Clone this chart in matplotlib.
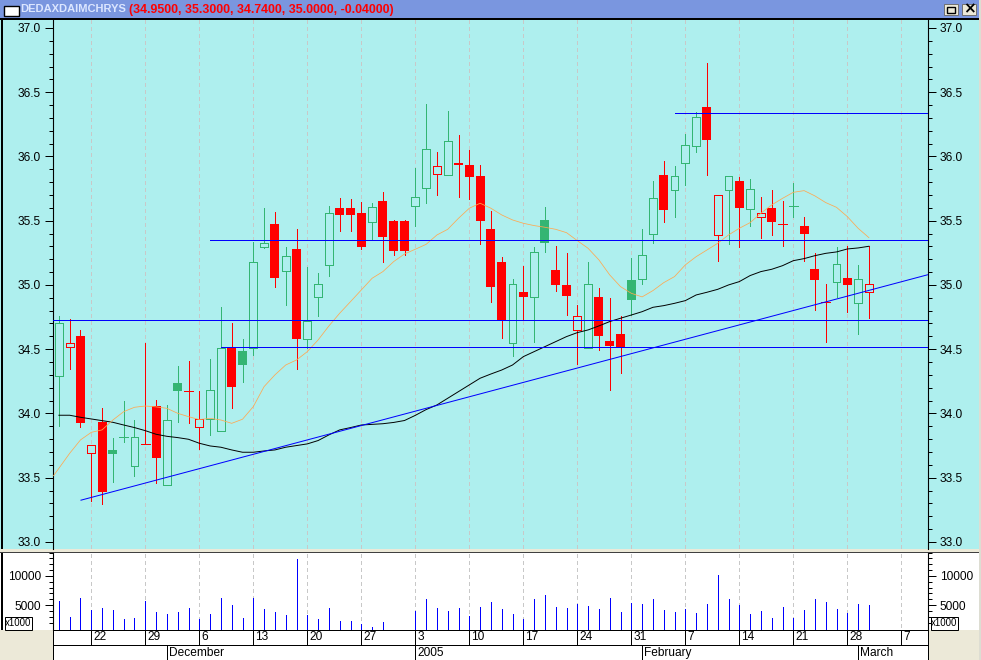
import numpy as np
import matplotlib
matplotlib.use("Agg")
import matplotlib.pyplot as plt
from matplotlib.patches import Rectangle

plt.rcParams['font.family'] = ['Liberation Sans', 'DejaVu Sans']

W, H = 981, 660

# body top, body bottom, high, low for each session
body_top = [34.70, 34.546, 34.603, 33.752, 33.934, 33.716, 33.815, 33.815, 33.76, 34.058,
            33.947, 34.237, 34.173, 33.955, 34.18, 34.507, 34.512, 34.486, 35.176, 35.324,
            35.475, 35.223, 35.28, 34.722, 35.005, 35.558, 35.599, 35.599, 35.56, 35.604,
            35.654, 35.498, 35.498, 35.682, 36.056, 35.923, 36.118, 35.949, 35.934, 35.848,
            35.436, 35.179, 35.005, 34.946, 35.254, 35.506, 35.117, 35.0, 34.756, 35.005,
            34.907, 34.564, 34.619, 35.039, 35.233, 35.674, 35.856, 35.846, 36.087, 36.305,
            36.385, 35.698, 35.846, 35.81, 35.745, 35.558, 35.599, 35.472, 35.612, 35.459,
            35.125, 34.865, 35.161, 35.054, 35.044, 35.005]
body_bot = [34.29, 34.52, 33.929, 33.69, 33.389, 33.685, 33.815, 33.594, 33.76, 33.656,
            33.441, 34.178, 34.173, 33.898, 33.955, 33.861, 34.209, 34.38, 34.507, 35.298,
            35.057, 35.106, 34.582, 34.577, 34.904, 35.153, 35.547, 35.547, 35.298, 35.488,
            35.376, 35.267, 35.267, 35.612, 35.752, 35.861, 35.853, 35.934, 35.84, 35.501,
            34.984, 34.728, 34.551, 34.907, 34.904, 35.329, 35.0, 34.914, 34.652, 34.507,
            34.603, 34.525, 34.515, 34.883, 35.047, 35.394, 35.584, 35.737, 35.952, 36.084,
            36.128, 35.392, 35.737, 35.599, 35.594, 35.532, 35.49, 35.472, 35.612, 35.397,
            35.039, 34.865, 35.021, 35.0, 34.857, 34.948]
high = [34.76, 34.735, 34.65, 33.752, 34.043, 33.81, 34.097, 33.949, 34.546, 34.105,
        34.066, 34.37, 34.409, 34.175, 34.424, 34.829, 34.704, 34.58, 35.335, 35.599,
        35.568, 35.296, 35.436, 35.14, 35.091, 35.615, 35.677, 35.669, 35.646, 35.638,
        35.724, 35.503, 35.506, 35.91, 36.409, 36.035, 36.354, 36.167, 36.05, 35.934,
        35.576, 35.218, 35.047, 35.148, 35.296, 35.607, 35.303, 35.249, 34.844, 35.179,
        34.977, 34.899, 34.759, 35.21, 35.436, 35.809, 35.965, 35.926, 36.175, 36.346,
        36.728, 35.698, 35.846, 35.84, 35.825, 35.685, 35.74, 35.654, 35.794, 35.529,
        35.249, 35.008, 35.296, 35.303, 35.156, 35.301]
low = [33.90, 34.346, 33.895, 33.319, 33.298, 33.467, 33.778, 33.514, 33.76, 33.459,
       33.441, 33.934, 33.926, 33.724, 33.833, 33.861, 34.043, 34.245, 34.455, 35.288,
       34.984, 34.844, 34.346, 34.512, 34.759, 35.07, 35.42, 35.423, 35.283, 35.348,
       35.179, 35.236, 35.236, 35.459, 35.638, 35.7, 35.853, 35.685, 35.669, 35.319,
       34.868, 34.588, 34.447, 34.735, 34.556, 35.257, 34.953, 34.766, 34.385, 34.507,
       34.494, 34.183, 34.315, 34.766, 35.008, 35.327, 35.49, 35.529, 35.778, 36.035,
       35.856, 35.187, 35.319, 35.296, 35.459, 35.366, 35.389, 35.303, 35.529, 35.187,
       34.805, 34.556, 34.907, 34.79, 34.619, 34.743]
# r = red, g = green; upper case = filled body
candle_kind = list(
    "grRrRGggrR"
    "gGrrggRGgg"
    "RgRgggRRRg"
    "RRRggrgRRR"
    "RRgRgGRRrg"
    "RRRGggRggg"
    "RrgRgrRrgR"
    "RrgRgr")

ma_slow = [33.986, 33.986, 33.97, 33.957, 33.944, 33.931, 33.91, 33.89, 33.866, 33.838,
           33.822, 33.812, 33.799, 33.768, 33.747, 33.737, 33.716, 33.698, 33.698, 33.708,
           33.716, 33.737, 33.75, 33.763, 33.789, 33.833, 33.872, 33.89, 33.91, 33.915,
           33.92, 33.93, 33.945, 33.985, 34.03, 34.066, 34.118, 34.17, 34.222, 34.274,
           34.307, 34.338, 34.377, 34.442, 34.481, 34.52, 34.559, 34.598, 34.629, 34.65,
           34.681, 34.715, 34.741, 34.766, 34.792, 34.826, 34.839, 34.857, 34.878, 34.922,
           34.943, 34.966, 35.0, 35.026, 35.073, 35.104, 35.122, 35.15, 35.189, 35.205,
           35.228, 35.246, 35.257, 35.28, 35.288, 35.301]
ma_fast = [33.573, 33.69, 33.794, 33.853, 33.872, 33.949, 34.014, 34.048, 34.058, 34.051,
           34.04, 34.001, 33.975, 33.952, 33.962, 33.949, 33.923, 33.955, 34.053, 34.209,
           34.3, 34.377, 34.416, 34.481, 34.572, 34.681, 34.78, 34.87, 34.961, 35.052,
           35.104, 35.182, 35.241, 35.278, 35.316, 35.389, 35.433, 35.519, 35.597, 35.636,
           35.597, 35.545, 35.506, 35.48, 35.462, 35.449, 35.433, 35.407, 35.345, 35.285,
           35.195, 35.078, 34.987, 34.935, 34.907, 34.956, 35.018, 35.065, 35.156, 35.22,
           35.272, 35.324, 35.389, 35.441, 35.485, 35.558, 35.623, 35.674, 35.721, 35.734,
           35.693, 35.641, 35.604, 35.532, 35.441, 35.368]
ma_fast_entry = 33.515  # value where the line enters at the left edge

volume = [5680, 2950, 6190, 4140, 4485, 4140, 2600, 2780, 5680, 3800,
          3460, 3800, 4485, 2600, 3460, 6190, 4995, 2780, 6190, 4310,
          3800, 3290, 12850, 3290, 2600, 4485, 2265, 2265, 1750, 1240,
          2095, 0, 0, 3970, 6020, 4485, 3970, 4485, 3120, 4655,
          5510, 4310, 3460, 2600, 6020, 6700, 4655, 4485, 5170, 4825,
          4310, 6190, 3800, 5340, 5170, 6020, 4140, 3800, 4310, 3630,
          5170, 10120, 6020, 4995, 3460, 3970, 2780, 4655, 2780, 4140,
          6020, 5510, 4310, 3630, 5170, 4995]

# start bar, level
hlines_start = [-0.55, 14, 15, 57]
hlines_level = [34.725, 35.348, 34.515, 36.336]
trend_x = [2, 80.47]
trend_y = [33.324, 35.08]

grid_bars = [3, 8, 13, 18, 23, 28, 33, 38, 43, 48, 53, 58, 63, 68, 73, 78]
day_labels = ['22', '29', '6', '13', '20', '27', '3', '10', '17', '24', '31', '7', '14', '21', '28', '7']
month_bars = [10, 33, 54, 74]
month_labels = ['December', '2005', 'February', 'March']

BG = '#AEEFEE'
RED = '#FF0000'
GREEN = '#34B573'
BLUE = '#0000FF'
ORANGE = '#FFA850'
GRID = '#C8C8C8'
BEIGE = '#ECE9D8'
BAR = '#7A96DF'
FS = 8.6
PX = 0.72  # one pixel line width


def px_axes(fig, x0, y0, x1, y1):
    return fig.add_axes([x0 / W, 1 - y1 / H, (x1 - x0) / W, (y1 - y0) / H])


def style_price_axis(ax, major, minor, fmt):
    ax.set_yticks(major)
    ax.set_yticklabels([fmt % v for v in major])
    ax.set_yticks(minor, minor=True)
    ax.tick_params(axis='y', which='major', length=5.5, width=PX, labelsize=FS, left=True, right=True,
                   labelleft=True, labelright=True, pad=3)
    ax.tick_params(axis='y', which='minor', length=3, width=PX, left=True, right=True)
    ax.tick_params(axis='x', which='both', bottom=False, top=False, labelbottom=False)
    for s in ax.spines.values():
        s.set_visible(False)
    ax.spines['left'].set_visible(True)
    ax.spines['right'].set_visible(True)


fig = plt.figure(figsize=(W / 100, H / 100), dpi=100)
fig.patch.set_facecolor('white')

# window chrome in pixel coordinates
back = fig.add_axes([0, 0, 1, 1], zorder=0)
back.set_xlim(0, W)
back.set_ylim(H, 0)
back.axis('off')
back.add_patch(Rectangle((0, 0), W, 549, color=BG, lw=0))
back.add_patch(Rectangle((0, 0), W, 18, color=BAR, lw=0))
back.add_patch(Rectangle((0, 18), W, 2, color='black', lw=0))
back.add_patch(Rectangle((1, 18), 1.5, 612, color='black', lw=0))
back.add_patch(Rectangle((0, 549), W, 2.5, color=BEIGE, lw=0))
back.add_patch(Rectangle((0, 551.5), W, 1, color='#404040', lw=0))
back.add_patch(Rectangle((0, 630), 52.5, 30, color=BEIGE, lw=0))
back.add_patch(Rectangle((929, 630), 52, 30, color=BEIGE, lw=0))
back.add_patch(Rectangle((979, 0), 2, 660, color='#DDDDD2', lw=0))
back.add_patch(Rectangle((4, 6), 15, 9.5, fc='white', ec='black', lw=1))
for bx in [944, 962]:
    back.add_patch(Rectangle((bx, 4), 14, 11, fc=BEIGE, ec='#707070', lw=0.7))
back.add_patch(Rectangle((947, 6.5), 8, 6.5, fc='none', ec='black', lw=1))
back.text(969, 9.3, '×', ha='center', va='center', fontsize=11, fontweight='bold', family=['DejaVu Sans'])
back.text(20, 9.5, 'DEDAXDAIMCHRYS', color='#DCE6FF', fontsize=8.0, fontweight='bold', va='center')
back.text(129, 9.5, '(34.9500, 35.3000, 34.7400, 35.0000, -0.04000)', color=RED, fontsize=8.9,
          fontweight='bold', va='center')

# price panel
ax = px_axes(fig, 53, 20, 928, 549)
ax.set_zorder(2)
ax.set_facecolor(BG)
ax.set_xlim(-0.546, 80.47)
ax.set_ylim(32.945, 37.062)
style_price_axis(ax, np.arange(33, 37.01, 0.5), np.arange(33, 37.01, 0.1), '%.1f')

ax.vlines(grid_bars, 32.9, 37.1, color=GRID, lw=PX, linestyles=(0, (4, 3)), zorder=1, antialiased=False)

idx = np.arange(len(body_top))
for i in idx:
    kind = candle_kind[i]
    col = RED if kind in 'rR' else GREEN
    ax.vlines(i, low[i], high[i], color=col, lw=PX, zorder=3, antialiased=False)
    top, bot = body_top[i], body_bot[i]
    if top == bot:
        ax.hlines(top, i - 0.4, i + 0.4, color=col, lw=PX, zorder=4, antialiased=False)
    elif kind.isupper():
        ax.bar(i, top - bot, 0.82, bottom=bot, color=col, lw=0, zorder=4, antialiased=False)
    else:
        ax.bar(i, top - bot, 0.72, bottom=bot, facecolor=BG, edgecolor=col, lw=PX, zorder=4, antialiased=False)

ax.plot(idx, ma_slow, color='black', lw=0.7, zorder=5)
ax.plot(np.r_[-0.5, idx], np.r_[ma_fast_entry, ma_fast], color=ORANGE, lw=0.55, zorder=5)
ax.plot(trend_x, trend_y, color=BLUE, lw=0.72, zorder=6, solid_capstyle='butt')
ax.hlines(hlines_level, hlines_start, 80.47, color=BLUE, lw=PX, zorder=6, antialiased=False)

# volume panel
vax = px_axes(fig, 53, 552.5, 928, 629.5)
vax.set_zorder(2)
vax.set_facecolor('white')
vax.set_xlim(-0.546, 80.47)
vax.set_ylim(800, 13950)
style_price_axis(vax, [5000, 10000], np.arange(2000, 14001, 1000), '%d')
vax.vlines(grid_bars, 0, 14100, color=GRID, lw=PX, linestyles=(0, (4, 3)), zorder=1, antialiased=False)
vax.vlines(idx, 0, volume, color=BLUE, lw=PX, zorder=3, antialiased=False)

# x1000 boxes sit above the axes
front = fig.add_axes([0, 0, 1, 1], zorder=5)
front.set_xlim(0, W)
front.set_ylim(H, 0)
front.axis('off')
for tx in [4.5, 931]:
    front.add_patch(Rectangle((tx, 617), 27, 12.5, fc='white', ec='black', lw=PX))
    front.text(tx + 13.5, 623.3, 'x1000', fontsize=7.0, va='center', ha='center')

# date strip
dax = px_axes(fig, 53, 629.5, 928, 660)
dax.set_zorder(2)
dax.set_xlim(-0.546, 80.47)
dax.set_ylim(2, 0)
dax.set_xticks([])
dax.set_yticks([])
for s in dax.spines.values():
    s.set_linewidth(PX)
dax.spines['bottom'].set_visible(False)
dax.hlines(1, -0.546, 80.47, color='black', lw=PX, antialiased=False)
dax.vlines(grid_bars, 0, 1, color='black', lw=PX, antialiased=False)
for b, lab in zip(grid_bars, day_labels):
    dax.text(b + 0.2, 0.52, lab, fontsize=FS, va='center', ha='left')
dax.vlines(month_bars, 1, 2, color='black', lw=PX, antialiased=False)
for b, lab in zip(month_bars, month_labels):
    dax.text(b + 0.2, 1.52, lab, fontsize=FS, va='center', ha='left')

fig.savefig('out.png', dpi=100)
